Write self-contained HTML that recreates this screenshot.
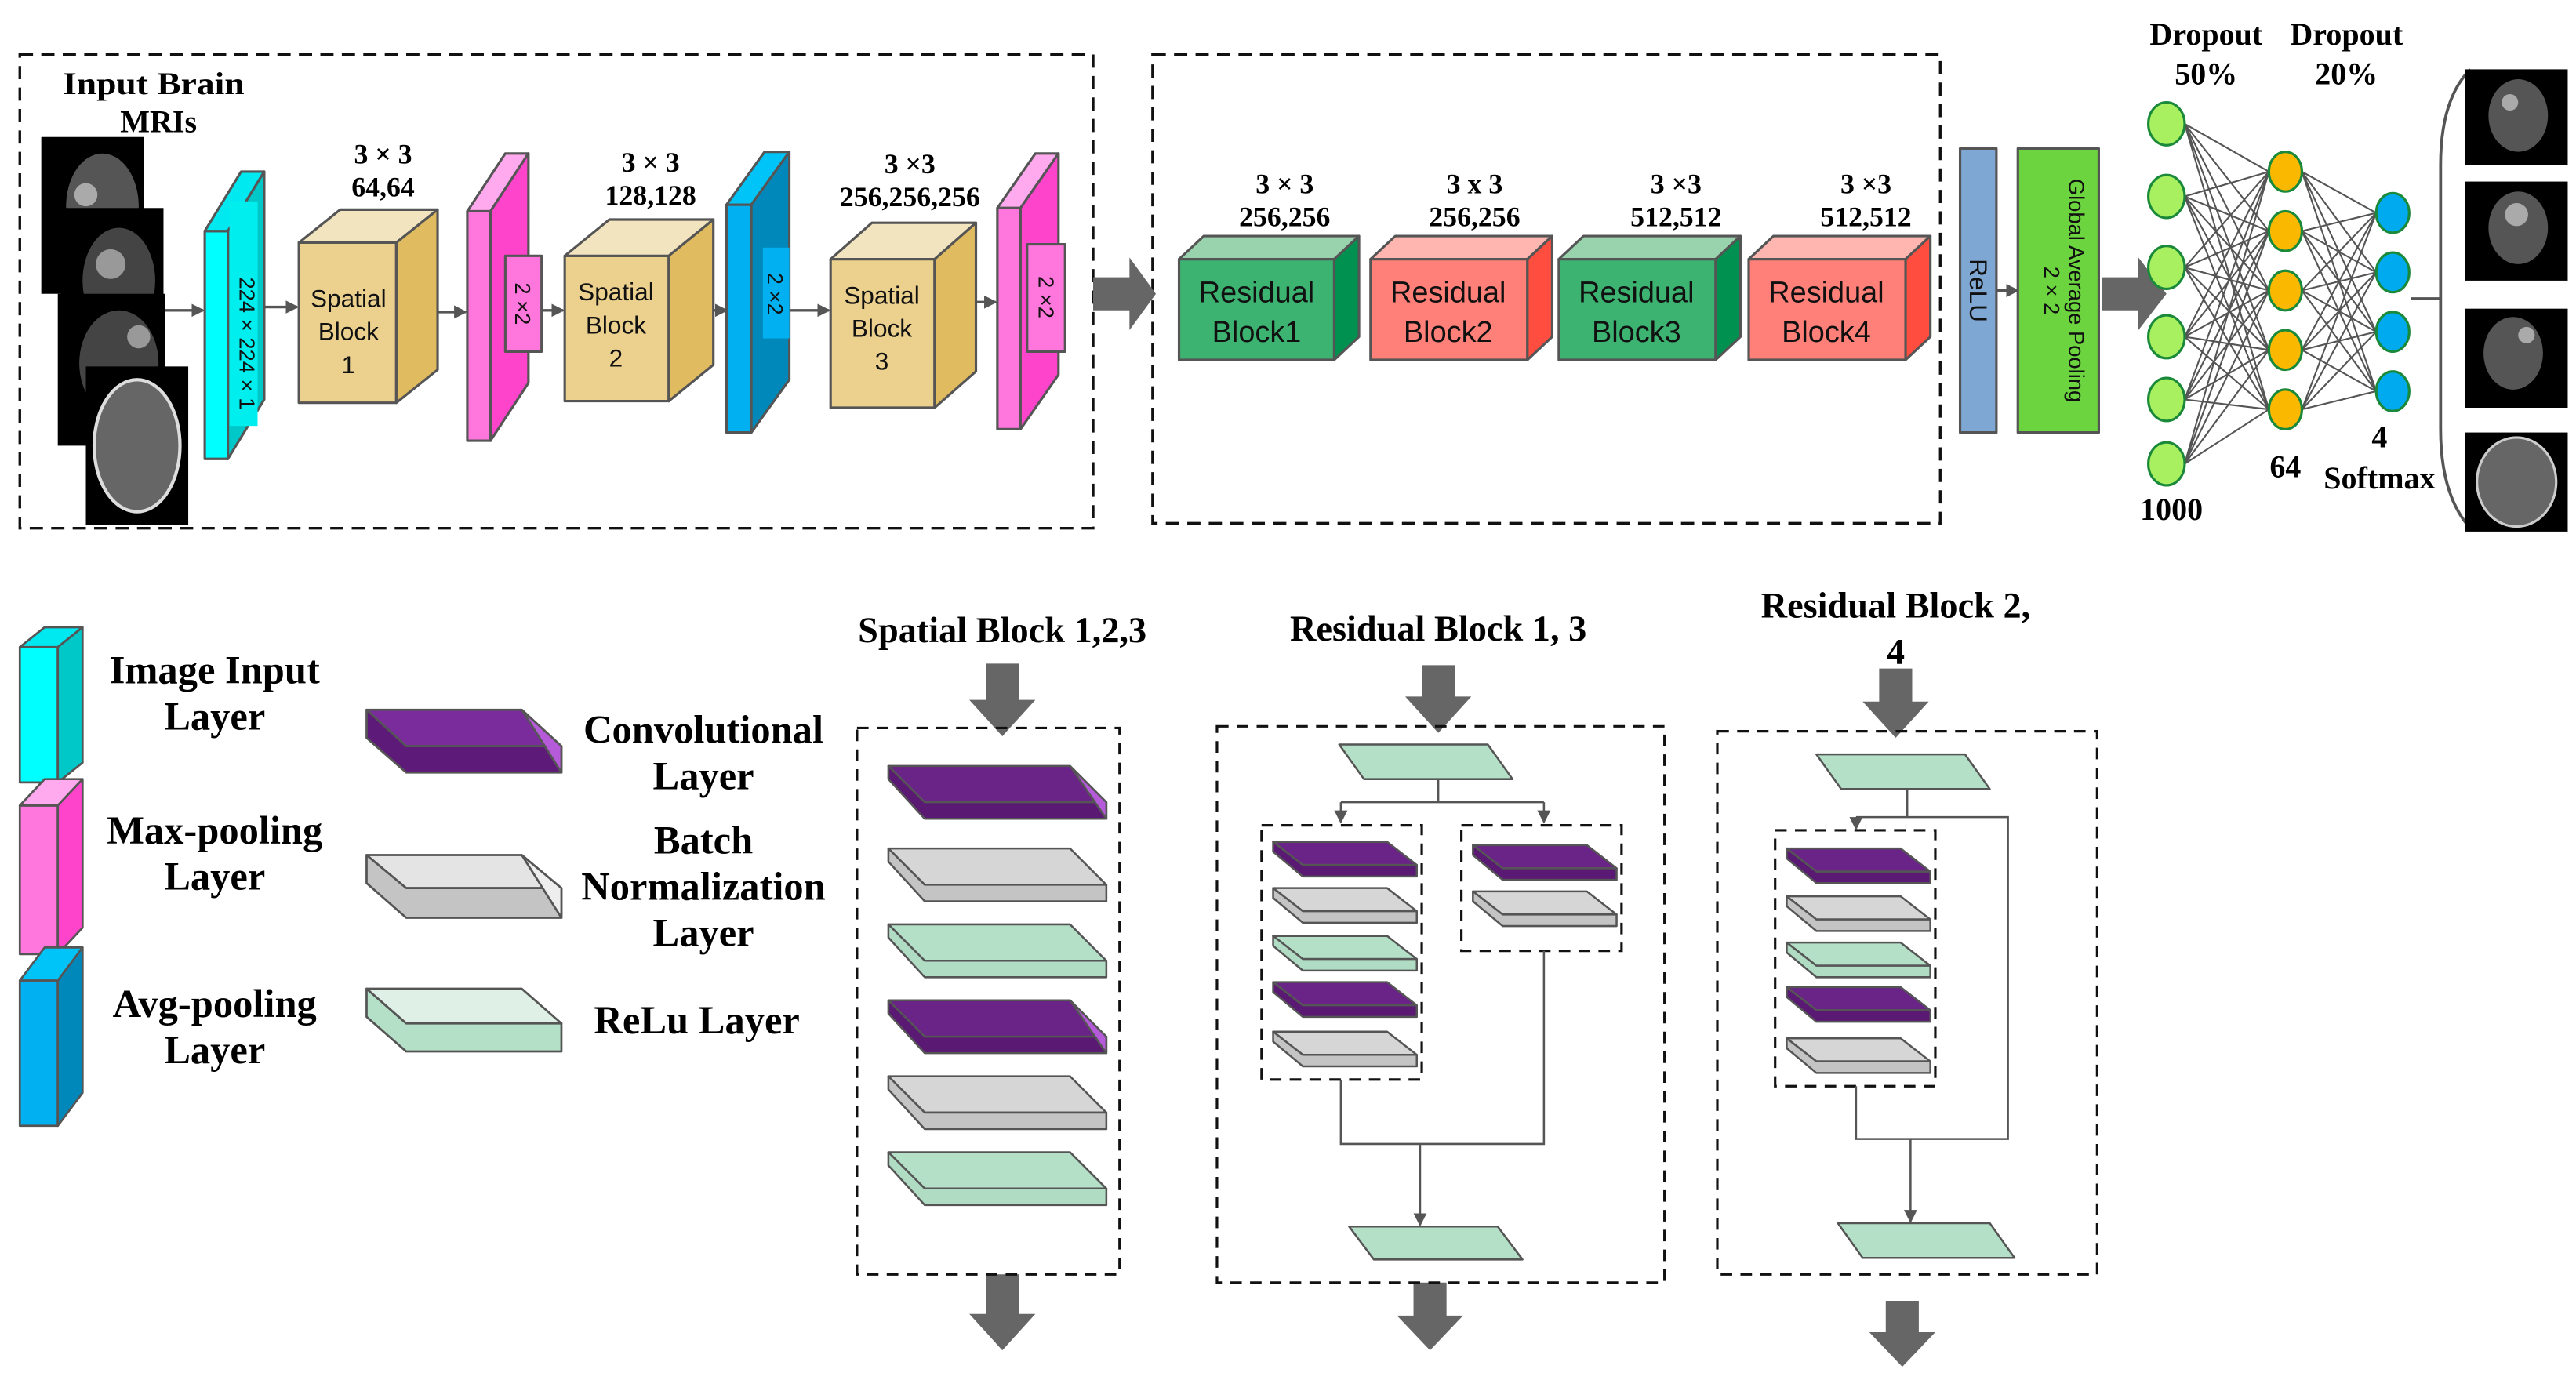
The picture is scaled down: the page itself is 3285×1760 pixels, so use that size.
<!DOCTYPE html>
<html><head><meta charset="utf-8"><style>
html,body{margin:0;padding:0;background:#fff}
svg{display:block}
.t{font-family:"Liberation Serif",serif;font-weight:bold;fill:#000}
.s{font-family:"Liberation Sans",sans-serif;fill:#111}
</style></head><body>
<svg width="3285" height="1760" viewBox="0 0 1560 836" preserveAspectRatio="none" xmlns="http://www.w3.org/2000/svg">
<defs>
<marker id="ah" markerWidth="8" markerHeight="8" refX="7" refY="4" orient="auto" markerUnits="userSpaceOnUse"><path d="M0,0 L8,4 L0,8 z" fill="#555"/></marker>
</defs>
<rect width="1560" height="836" fill="#fff"/>
<rect x="12" y="33" width="650" height="287" fill="none" stroke="#111" stroke-width="1.6" stroke-dasharray="8,5"/>
<rect x="698" y="33" width="477" height="284" fill="none" stroke="#111" stroke-width="1.6" stroke-dasharray="8,5"/>
<text class="t" x="93" y="57" font-size="19" text-anchor="middle" textLength="110" lengthAdjust="spacingAndGlyphs">Input Brain</text>
<text class="t" x="96" y="80" font-size="19" text-anchor="middle">MRIs</text>
<g>
<rect x="25" y="83" width="62" height="95" fill="#000"/><ellipse cx="62" cy="125" rx="22" ry="32" fill="#555"/><circle cx="52" cy="118" r="7" fill="#aaa"/>
<rect x="37" y="126" width="62" height="95" fill="#000"/><ellipse cx="72" cy="170" rx="22" ry="32" fill="#444"/><circle cx="67" cy="160" r="9" fill="#999"/>
<rect x="35" y="178" width="65" height="92" fill="#000"/><ellipse cx="72" cy="220" rx="24" ry="32" fill="#444"/><circle cx="84" cy="204" r="7" fill="#999"/>
<rect x="52" y="222" width="62" height="96" fill="#000"/><ellipse cx="83" cy="270" rx="26" ry="40" fill="#666" stroke="#ddd" stroke-width="2"/>
</g>
<g stroke="#555" stroke-width="1.6" marker-end="url(#ah)">
<line x1="100" y1="188" x2="123" y2="188"/>
<line x1="160" y1="186" x2="180" y2="186"/>
<line x1="265" y1="189" x2="282" y2="189"/>
<line x1="320" y1="188" x2="341" y2="188"/>
<line x1="432" y1="188" x2="440" y2="188"/>
<line x1="478" y1="188" x2="502" y2="188"/>
<line x1="591" y1="183" x2="603" y2="183"/>
<line x1="1209" y1="176" x2="1222" y2="176"/>
</g>
<g stroke="#555" stroke-width="1.5" stroke-linejoin="round">
<rect x="124" y="140" width="14" height="138" fill="#00ffff"/>
<polygon points="124,140 146,104 160,104 138,140" fill="#00e8f0"/>
<polygon points="138,140 160,104 160,242 138,278" fill="#00c8c8"/>
<rect x="139" y="122" width="17" height="136" fill="#00eeee" stroke="none"/>
<rect x="181" y="147" width="59" height="97" fill="#ebd08e"/>
<polygon points="181,147 206,127 265,127 240,147" fill="#f3e4c0"/>
<polygon points="240,147 265,127 265,224 240,244" fill="#e0bb60"/>
<rect x="283" y="128" width="14" height="139" fill="#ff77dd"/>
<polygon points="283,128 306,93 320,93 297,128" fill="#ffaaee"/>
<polygon points="297,128 320,93 320,232 297,267" fill="#ff44cc"/>
<rect x="306" y="155" width="22" height="58" fill="#ff77dd"/>
<rect x="342" y="155" width="63" height="88" fill="#ebd08e"/>
<polygon points="342,155 369,133 432,133 405,155" fill="#f3e4c0"/>
<polygon points="405,155 432,133 432,221 405,243" fill="#e0bb60"/>
<rect x="440" y="124" width="15" height="138" fill="#00b0f0"/>
<polygon points="440,124 463,92 478,92 455,124" fill="#00c4f8"/>
<polygon points="455,124 478,92 478,230 455,262" fill="#0088bb"/>
<rect x="462" y="150" width="16" height="55" fill="#00b0f0" stroke="none"/>
<rect x="503" y="157" width="63" height="90" fill="#ebd08e"/>
<polygon points="503,157 528,135 591,135 566,157" fill="#f3e4c0"/>
<polygon points="566,157 591,135 591,225 566,247" fill="#e0bb60"/>
<rect x="604" y="126" width="14" height="134" fill="#ff77dd"/>
<polygon points="604,126 627,93 641,93 618,126" fill="#ffaaee"/>
<polygon points="618,126 641,93 641,227 618,260" fill="#ff44cc"/>
<rect x="622" y="148" width="23" height="65" fill="#ff77dd"/>
<rect x="714" y="157" width="94" height="61" fill="#3cb371"/>
<polygon points="714,157 729,143 823,143 808,157" fill="#99d3ae"/>
<polygon points="808,157 823,143 823,204 808,218" fill="#009150"/>
<rect x="830" y="157" width="95" height="61" fill="#ff8078"/>
<polygon points="830,157 845,143 940,143 925,157" fill="#ffb6b0"/>
<polygon points="925,157 940,143 940,204 925,218" fill="#ff4d40"/>
<rect x="944" y="157" width="95" height="61" fill="#3cb371"/>
<polygon points="944,157 959,143 1054,143 1039,157" fill="#99d3ae"/>
<polygon points="1039,157 1054,143 1054,204 1039,218" fill="#009150"/>
<rect x="1059" y="157" width="95" height="61" fill="#ff8078"/>
<polygon points="1059,157 1074,143 1169,143 1154,157" fill="#ffb6b0"/>
<polygon points="1154,157 1169,143 1169,204 1154,218" fill="#ff4d40"/>
<rect x="1187" y="90" width="22" height="172" fill="#7fa7d4"/>
<rect x="1222" y="90" width="49" height="172" fill="#6cd43e"/>
</g>
<polygon points="662,168 684,168 684,156 700,178 684,200 684,188 662,188" fill="#666"/>
<polygon points="1273,168 1295,168 1295,156 1312,178 1295,200 1295,188 1273,188" fill="#666"/>
<g class="t" font-size="17" text-anchor="middle">
<text x="232" y="99">3 × 3</text><text x="232" y="119">64,64</text>
<text x="394" y="104">3 × 3</text><text x="394" y="124">128,128</text>
<text x="551" y="105">3 ×3</text><text x="551" y="125">256,256,256</text>
<text x="778" y="117">3 × 3</text><text x="778" y="137">256,256</text>
<text x="893" y="117">3 x 3</text><text x="893" y="137">256,256</text>
<text x="1015" y="117">3 ×3</text><text x="1015" y="137">512,512</text>
<text x="1130" y="117">3 ×3</text><text x="1130" y="137">512,512</text>
</g>
<g class="s" font-size="15" text-anchor="middle">
<text x="211" y="186">Spatial</text><text x="211" y="206">Block</text><text x="211" y="226">1</text>
<text x="373" y="182">Spatial</text><text x="373" y="202">Block</text><text x="373" y="222">2</text>
<text x="534" y="184">Spatial</text><text x="534" y="204">Block</text><text x="534" y="224">3</text>
</g>
<g class="s" font-size="18" text-anchor="middle">
<text x="761" y="183">Residual</text><text x="761" y="207">Block1</text>
<text x="877" y="183">Residual</text><text x="877" y="207">Block2</text>
<text x="991" y="183">Residual</text><text x="991" y="207">Block3</text>
<text x="1106" y="183">Residual</text><text x="1106" y="207">Block4</text>
</g>
<g class="s" font-size="13" text-anchor="middle">
<text transform="translate(145,208) rotate(90)">224 × 224 × 1</text>
<text transform="translate(312,184) rotate(90)">2 ×2</text>
<text transform="translate(465,178) rotate(90)">2 ×2</text>
<text transform="translate(629,180) rotate(90)">2 ×2</text>
<text transform="translate(1193,176) rotate(90)" font-size="15">ReLU</text>
<text transform="translate(1253,176) rotate(90)" font-size="13">Global Average Pooling</text>
<text transform="translate(1238,176) rotate(90)" font-size="13">2 × 2</text>
</g>
<path stroke="#555" stroke-width="1" fill="none" d="
M1323 75L1374 104M1323 75L1374 140M1323 75L1374 176M1323 75L1374 212M1323 75L1374 248
M1323 119L1374 104M1323 119L1374 140M1323 119L1374 176M1323 119L1374 212M1323 119L1374 248
M1323 162L1374 104M1323 162L1374 140M1323 162L1374 176M1323 162L1374 212M1323 162L1374 248
M1323 204L1374 104M1323 204L1374 140M1323 204L1374 176M1323 204L1374 212M1323 204L1374 248
M1323 242L1374 104M1323 242L1374 140M1323 242L1374 176M1323 242L1374 212M1323 242L1374 248
M1323 281L1374 104M1323 281L1374 140M1323 281L1374 176M1323 281L1374 212M1323 281L1374 248
M1394 104L1439 129M1394 104L1439 165M1394 104L1439 201M1394 104L1439 237
M1394 140L1439 129M1394 140L1439 165M1394 140L1439 201M1394 140L1439 237
M1394 176L1439 129M1394 176L1439 165M1394 176L1439 201M1394 176L1439 237
M1394 212L1439 129M1394 212L1439 165M1394 212L1439 201M1394 212L1439 237
M1394 248L1439 129M1394 248L1439 165M1394 248L1439 201M1394 248L1439 237"/>
<g stroke="#1a8a3a" stroke-width="1.5" fill="#a8f060">
<ellipse cx="1312" cy="75" rx="11" ry="13"/><ellipse cx="1312" cy="119" rx="11" ry="13"/><ellipse cx="1312" cy="162" rx="11" ry="13"/>
<ellipse cx="1312" cy="204" rx="11" ry="13"/><ellipse cx="1312" cy="242" rx="11" ry="13"/><ellipse cx="1312" cy="281" rx="11" ry="13"/>
</g>
<g stroke="#1a8a3a" stroke-width="1.5" fill="#fbb800">
<ellipse cx="1384" cy="104" rx="10" ry="12"/><ellipse cx="1384" cy="140" rx="10" ry="12"/><ellipse cx="1384" cy="176" rx="10" ry="12"/><ellipse cx="1384" cy="212" rx="10" ry="12"/><ellipse cx="1384" cy="248" rx="10" ry="12"/>
</g>
<g stroke="#1a8a3a" stroke-width="1.5" fill="#00aaee">
<ellipse cx="1449" cy="129" rx="10" ry="12"/><ellipse cx="1449" cy="165" rx="10" ry="12"/><ellipse cx="1449" cy="201" rx="10" ry="12"/><ellipse cx="1449" cy="237" rx="10" ry="12"/>
</g>
<g class="t" font-size="19" text-anchor="middle">
<text x="1336" y="27">Dropout</text><text x="1336" y="51">50%</text>
<text x="1421" y="27">Dropout</text><text x="1421" y="51">20%</text>
<text x="1315" y="315">1000</text><text x="1384" y="289">64</text>
<text x="1441" y="271">4</text><text x="1441" y="296">Softmax</text>
</g>
<path d="M1460 181 L1478 181 M1496 42 Q1478 60 1478 100 L1478 260 Q1478 300 1496 320" stroke="#555" stroke-width="1.8" fill="none"/>
<g>
<rect x="1493" y="42" width="62" height="58" fill="#000"/><ellipse cx="1525" cy="70" rx="18" ry="22" fill="#555"/><circle cx="1520" cy="62" r="5" fill="#aaa"/>
<rect x="1493" y="110" width="62" height="60" fill="#000"/><ellipse cx="1525" cy="138" rx="18" ry="22" fill="#555"/><circle cx="1524" cy="130" r="7" fill="#aaa"/>
<rect x="1493" y="187" width="62" height="60" fill="#000"/><ellipse cx="1522" cy="214" rx="18" ry="22" fill="#555"/><circle cx="1530" cy="203" r="5" fill="#aaa"/>
<rect x="1493" y="262" width="62" height="60" fill="#000"/><ellipse cx="1524" cy="292" rx="24" ry="27" fill="#666" stroke="#ccc" stroke-width="1.5"/>
</g>
<g stroke="#555" stroke-width="1.3" stroke-linejoin="round">
<rect x="12" y="392" width="23" height="82" fill="#00ffff"/><polygon points="12,392 27,380 50,380 35,392" fill="#00e8f0"/><polygon points="35,392 50,380 50,462 35,474" fill="#00c8c8"/>
<rect x="12" y="488" width="23" height="90" fill="#ff77dd"/><polygon points="12,488 27,472 50,472 35,488" fill="#ffaaee"/><polygon points="35,488 50,472 50,562 35,578" fill="#ff44cc"/>
<rect x="12" y="594" width="23" height="88" fill="#00b0f0"/><polygon points="12,594 27,574 50,574 35,594" fill="#00c4f8"/><polygon points="35,594 50,574 50,662 35,682" fill="#0088bb"/>
<polygon points="222,430 316,430 340,452 246,452" fill="#7b2c9c"/><polygon points="222,430 246,452 340,452 340,468 246,468 222,447" fill="#5e1a78"/><polygon points="316,430 340,452 340,468" fill="#b55ad8"/>
<polygon points="222,518 316,518 340,538 246,538" fill="#e4e4e4"/><polygon points="222,518 246,538 340,538 340,556 246,556 222,535" fill="#c4c4c4"/><polygon points="316,518 340,538 340,556" fill="#eeeeee"/>
<polygon points="222,599 316,599 340,620 246,620" fill="#dff0e6"/><polygon points="222,599 246,620 340,620 340,637 246,637 222,616" fill="#b4e0c8"/>
</g>
<g class="t" font-size="24" text-anchor="middle">
<text x="130" y="414">Image Input</text><text x="130" y="442">Layer</text>
<text x="130" y="511">Max-pooling</text><text x="130" y="539">Layer</text>
<text x="130" y="616">Avg-pooling</text><text x="130" y="644">Layer</text>
<text x="426" y="450">Convolutional</text><text x="426" y="478">Layer</text>
<text x="426" y="517">Batch</text><text x="426" y="545">Normalization</text><text x="426" y="573">Layer</text>
<text x="422" y="626">ReLu Layer</text>
</g>
<g class="t" font-size="22" text-anchor="middle">
<text x="607" y="389">Spatial Block 1,2,3</text>
<text x="871" y="388">Residual Block 1, 3</text>
<text x="1148" y="374">Residual Block 2,</text>
<text x="1148" y="402">4</text>
</g>
<g fill="#666">
<polygon points="597,402 617,402 617,424 627,424 607,446 587,424 597,424"/>
<polygon points="597,772 617,772 617,796 627,796 607,818 587,796 597,796"/>
<polygon points="861,403 881,403 881,422 891,422 871,444 851,422 861,422"/>
<polygon points="856,777 876,777 876,797 886,797 866,818 846,797 856,797"/>
<polygon points="1138,405 1158,405 1158,425 1168,425 1148,447 1128,425 1138,425"/>
<polygon points="1142,788 1162,788 1162,807 1172,807 1152,828 1132,807 1142,807"/>
</g>
<g fill="none" stroke="#111" stroke-width="1.5" stroke-dasharray="7,5">
<rect x="519" y="441" width="159" height="331"/>
<rect x="737" y="440" width="271" height="337"/>
<rect x="1040" y="443" width="230" height="329"/>
<rect x="764" y="500" width="97" height="154"/>
<rect x="885" y="500" width="97" height="76"/>
<rect x="1075" y="503" width="97" height="155"/>
</g>
<g stroke="#555" stroke-width="1.2" stroke-linejoin="round">
<polygon points="538,464 648,464 670,486 560,486" fill="#6a2386"/><polygon points="538,464 560,486 670,486 670,496 560,496 538,472" fill="#5a1a74"/><polygon points="648,464 670,486 670,496" fill="#b55ad8"/>
<polygon points="538,514 648,514 670,536 560,536" fill="#d6d6d6"/><polygon points="538,514 560,536 670,536 670,546 560,546 538,522" fill="#c4c4c4"/>
<polygon points="538,560 648,560 670,582 560,582" fill="#b4e0c8"/><polygon points="538,560 560,582 670,582 670,592 560,592 538,568" fill="#b0dcc4"/>
<polygon points="538,606 648,606 670,628 560,628" fill="#6a2386"/><polygon points="538,606 560,628 670,628 670,638 560,638 538,614" fill="#5a1a74"/><polygon points="648,606 670,628 670,638" fill="#b55ad8"/>
<polygon points="538,652 648,652 670,674 560,674" fill="#d6d6d6"/><polygon points="538,652 560,674 670,674 670,684 560,684 538,660" fill="#c4c4c4"/>
<polygon points="538,698 648,698 670,720 560,720" fill="#b4e0c8"/><polygon points="538,698 560,720 670,720 670,730 560,730 538,706" fill="#b0dcc4"/>
</g>
<g stroke="#555" stroke-width="1.2" fill="none">
<path d="M871 472 L871 486 M812 486 L935 486"/>
<line x1="812" y1="486" x2="812" y2="498" marker-end="url(#ah)"/>
<line x1="935" y1="486" x2="935" y2="498" marker-end="url(#ah)"/>
<path d="M812 654 L812 693 L935 693 L935 576"/>
<line x1="860" y1="693" x2="860" y2="742" marker-end="url(#ah)"/>
<path d="M1155 478 L1155 495 L1216 495 L1216 690 L1124 690 L1124 658 M1124 495 L1155 495"/>
<line x1="1124" y1="495" x2="1124" y2="502" marker-end="url(#ah)"/>
<line x1="1157" y1="690" x2="1157" y2="740" marker-end="url(#ah)"/>
</g>
<g stroke="#555" stroke-width="1.2" stroke-linejoin="round">
<polygon points="811,451 901,451 916,472 826,472" fill="#b4e0c8"/>
<polygon points="817,743 907,743 922,763 832,763" fill="#b4e0c8"/>
<polygon points="1100,457 1190,457 1205,478 1115,478" fill="#b4e0c8"/>
<polygon points="1113,741 1205,741 1220,762 1128,762" fill="#b4e0c8"/>
<polygon points="771,510 840,510 858,524 789,524" fill="#6a2386"/><polygon points="771,510 789,524 858,524 858,531 789,531 771,516" fill="#5a1a74"/>
<polygon points="771,538 840,538 858,552 789,552" fill="#d6d6d6"/><polygon points="771,538 789,552 858,552 858,559 789,559 771,544" fill="#c4c4c4"/>
<polygon points="771,567 840,567 858,581 789,581" fill="#b4e0c8"/><polygon points="771,567 789,581 858,581 858,588 789,588 771,573" fill="#b0dcc4"/>
<polygon points="771,595 840,595 858,609 789,609" fill="#6a2386"/><polygon points="771,595 789,609 858,609 858,616 789,616 771,601" fill="#5a1a74"/>
<polygon points="771,625 840,625 858,639 789,639" fill="#d6d6d6"/><polygon points="771,625 789,639 858,639 858,646 789,646 771,631" fill="#c4c4c4"/>
<polygon points="892,512 961,512 979,526 910,526" fill="#6a2386"/><polygon points="892,512 910,526 979,526 979,533 910,533 892,518" fill="#5a1a74"/>
<polygon points="892,540 961,540 979,554 910,554" fill="#d6d6d6"/><polygon points="892,540 910,554 979,554 979,561 910,561 892,546" fill="#c4c4c4"/>
<polygon points="1082,514 1151,514 1169,528 1100,528" fill="#6a2386"/><polygon points="1082,514 1100,528 1169,528 1169,535 1100,535 1082,520" fill="#5a1a74"/>
<polygon points="1082,543 1151,543 1169,557 1100,557" fill="#d6d6d6"/><polygon points="1082,543 1100,557 1169,557 1169,564 1100,564 1082,549" fill="#c4c4c4"/>
<polygon points="1082,571 1151,571 1169,585 1100,585" fill="#b4e0c8"/><polygon points="1082,571 1100,585 1169,585 1169,592 1100,592 1082,577" fill="#b0dcc4"/>
<polygon points="1082,598 1151,598 1169,612 1100,612" fill="#6a2386"/><polygon points="1082,598 1100,612 1169,612 1169,619 1100,619 1082,604" fill="#5a1a74"/>
<polygon points="1082,629 1151,629 1169,643 1100,643" fill="#d6d6d6"/><polygon points="1082,629 1100,643 1169,643 1169,650 1100,650 1082,635" fill="#c4c4c4"/>
</g>
</svg>
</body></html>
